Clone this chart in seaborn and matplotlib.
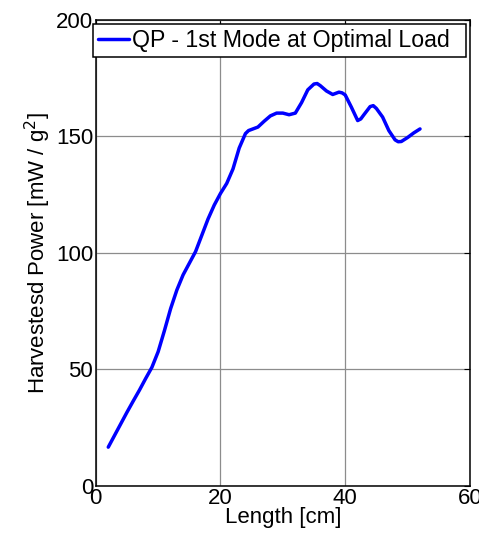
import pandas as pd
import matplotlib
matplotlib.use("Agg")
import matplotlib.pyplot as plt
import seaborn as sns

# --- data ---
length_cm = [2, 3, 4, 5, 6, 7, 8, 9, 10, 11, 12, 13, 14, 15, 16, 17, 18, 19, 20,
             21, 22, 23, 24, 24.5, 25, 26, 27, 28, 29, 30, 31, 32, 33, 34, 35,
             35.5, 36, 37, 38, 39, 39.5, 40, 41, 42, 42.5, 43, 44, 44.5, 45, 46,
             47, 48, 48.5, 49, 50, 51, 52]
power = [16.5, 21.5, 26.5, 31.5, 36.3, 41, 46, 50.8, 57.5, 66.5, 76, 84, 90.5,
         95.5, 100.5, 107.5, 114.5, 120.5, 125.5, 129.8, 136, 145, 151.2, 152.5,
         153, 154, 156.5, 158.8, 160, 160, 159.3, 160, 164.5, 170, 172.5, 172.7,
         171.8, 169.5, 168, 169, 168.7, 167.8, 162.5, 156.8, 157.5, 159.3,
         162.8, 163.2, 162, 158.3, 152.5, 148.5, 147.7, 147.8, 149.5, 151.5, 153.2]
series_name = "QP - 1st Mode at Optimal Load"

df = pd.DataFrame({"Length": length_cm, "Power": power, "Series": series_name})

sns.set_style("white")
plt.rcParams['font.family'] = ['Liberation Sans', 'DejaVu Sans']
plt.rcParams['text.color'] = 'black'
plt.rcParams['axes.labelcolor'] = 'black'
plt.rcParams['xtick.color'] = 'black'
plt.rcParams['ytick.color'] = 'black'

fig = plt.figure(figsize=(4.79, 5.33), dpi=100)
ax = fig.add_axes([0.2, 0.089, 0.781, 0.8735])

sns.lineplot(data=df, x="Length", y="Power", hue="Series", palette=["#0000ff"],
             linewidth=2.5, ax=ax)

ax.set_xlim(0, 60)
ax.set_ylim(0, 200)
ax.set_xticks([0, 20, 40, 60])
ax.set_yticks([0, 50, 100, 150, 200])
ax.grid(True, color="#8c8c8c", linewidth=0.9)
ax.tick_params(direction="in", top=True, right=True, labelsize=16, length=4,
               width=0.8, pad=2)
for s in ax.spines.values():
    s.set_color("black")
    s.set_linewidth(1.1)

ax.set_xlabel("Length [cm]", fontsize=16, labelpad=-2)
ax.set_ylabel("Harvestesd Power [mW / g$^2$]", fontsize=16, labelpad=2)

leg = ax.legend(loc="upper left", bbox_to_anchor=(-0.008, 0.991, 0.997, 0.0),
                mode="expand", fontsize=16.7, frameon=True, fancybox=False,
                edgecolor="black", framealpha=1, handlelength=1.35,
                handletextpad=0.1, borderpad=0.22, borderaxespad=0.0)
leg.get_frame().set_linewidth(1.1)

fig.savefig("out.png", dpi=100)
